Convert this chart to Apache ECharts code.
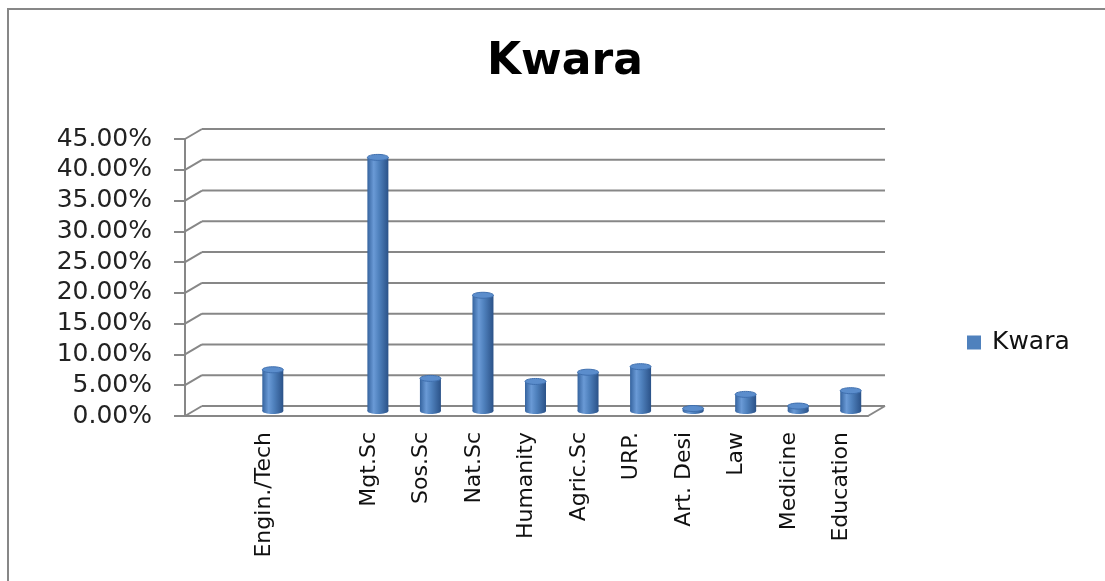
<!DOCTYPE html>
<html>
<head>
<meta charset="utf-8">
<script src="https://cdn.jsdelivr.net/npm/echarts@6/dist/echarts.min.js"></script>
<style>
  html, body { margin: 0; padding: 0; background: #fff; }
  #main { width: 1105px; height: 581px; }
  .frame { position: absolute; left: 7px; top: 8px; right: 0; bottom: 0;
           border-top: 2px solid #878787; border-left: 2px solid #878787; pointer-events: none; }
</style>
</head>
<body>
<div id="main"></div>
<div class="frame"></div>
<script>
// 专业类别（第1、3个位置为空）
const categories = ['', 'Engin./Tech', '', 'Mgt.Sc', 'Sos.Sc', 'Nat.Sc', 'Humanity',
  'Agric.Sc', 'URP.', 'Art. Desi', 'Law', 'Medicine', 'Education'];
// 百分比数值
const kwaraValues = [null, 6.7, null, 41.2, 5.3, 18.8, 4.8, 6.3, 7.2, 0.4, 2.7, 0.8, 3.3];
// y轴刻度
const yTicks = [0, 5, 10, 15, 20, 25, 30, 35, 40, 45];

// 3D 背景墙偏移
const wallDx = 17, wallDy = -10;
const barDx = 9, barDy = -5;
const lineColor = '#878787';

let chart = echarts.init(document.getElementById('main'));

chart.setOption({
    animation: false,
    title: {
        text: 'Kwara',
        left: 482,
        top: 36,
        textStyle: {
            fontFamily: 'DejaVu Sans',
            fontSize: 44,
            fontWeight: 'bold',
            color: '#000'
        }
    },
    legend: {
        data: ['Kwara'],
        left: 962,
        top: 325,
        icon: 'rect',
        itemWidth: 14,
        itemHeight: 14,
        textStyle: {
            fontFamily: 'DejaVu Sans',
            fontSize: 25,
            color: '#111',
            padding: [0, 0, 0, 6]
        }
    },
    grid: {
        left: 185,
        right: 237,
        top: 139,
        bottom: 165
    },
    xAxis: {
        type: 'category',
        data: categories,
        axisLine: { lineStyle: { color: lineColor, width: 2 } },
        axisTick: { interval: 0, length: 9, lineStyle: { color: lineColor, width: 2 } },
        axisLabel: {
            interval: 0,
            rotate: 90,
            margin: 16,
            fontFamily: 'DejaVu Sans',
            fontSize: 22,
            color: '#111'
        }
    },
    yAxis: {
        type: 'value',
        min: 0,
        max: 45,
        interval: 5,
        axisLine: { show: true, lineStyle: { color: lineColor, width: 2 } },
        axisTick: { show: true, length: 11, lineStyle: { color: lineColor, width: 2 } },
        splitLine: { show: false },
        axisLabel: {
            margin: 33,
            fontFamily: 'DejaVu Sans',
            fontSize: 25,
            color: '#222',
            formatter: function (v) {
                return v.toFixed(2) + '%';
            }
        }
    },
    series: [
        {
            // 背景墙网格线
            name: 'wall',
            type: 'custom',
            silent: true,
            z: 1,
            data: yTicks.map(function (v) { return [0, v]; }),
            renderItem: function (params, api) {
                let cs = params.coordSys;
                let v = api.value(1);
                let y = api.coord([0, v])[1];
                let x0 = cs.x, x1 = cs.x + cs.width;
                let style = { stroke: lineColor, lineWidth: 2 };
                let children = [
                    { type: 'line', shape: { x1: x0, y1: y, x2: x0 + wallDx, y2: y + wallDy }, style: style },
                    { type: 'line', shape: { x1: x0 + wallDx, y1: y + wallDy, x2: x1 + wallDx, y2: y + wallDy }, style: style }
                ];
                if (v === 0) {
                    children.push({ type: 'line', shape: { x1: x1, y1: y, x2: x1 + wallDx, y2: y + wallDy }, style: style });
                }
                return { type: 'group', children: children };
            }
        },
        {
            // 圆柱形柱子
            name: 'Kwara',
            type: 'custom',
            z: 5,
            itemStyle: { color: '#4F81BD' },
            data: kwaraValues.map(function (v, i) { return v == null ? [i, '-'] : [i, v]; }),
            renderItem: function (params, api) {
                let v = api.value(1);
                if (isNaN(v)) return;
                let base = api.coord([api.value(0), 0]);
                let top = api.coord([api.value(0), v]);
                let w = 21, ry = 3;
                let cx = base[0] + barDx;
                let by = base[1] + barDy;
                let ty = top[1] + barDy;
                let body = new echarts.graphic.LinearGradient(0, 0, 1, 0, [
                    { offset: 0, color: '#35639e' },
                    { offset: 0.3, color: '#6a9ad6' },
                    { offset: 0.55, color: '#4f81bd' },
                    { offset: 1, color: '#2b5288' }
                ]);
                return {
                    type: 'group',
                    children: [
                        { type: 'ellipse', shape: { cx: cx, cy: by, rx: w / 2, ry: ry }, style: { fill: body } },
                        { type: 'rect', shape: { x: cx - w / 2, y: ty, width: w, height: Math.max(by - ty, 0) }, style: { fill: body } },
                        { type: 'ellipse', shape: { cx: cx, cy: ty, rx: w / 2, ry: ry }, style: { fill: '#5b8dcc', stroke: '#3f6fae', lineWidth: 1 } }
                    ]
                };
            }
        }
    ]
});
</script>
</body>
</html>
